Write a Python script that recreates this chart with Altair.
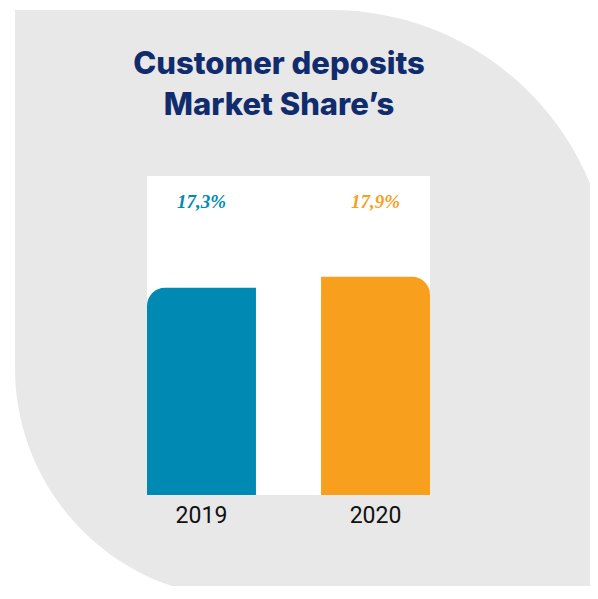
import altair as alt
import pandas as pd

# ---- data ----
years = ["2019", "2020"]
shares = [17.3, 17.9]
value_labels = ["17,3%", "17,9%"]
bar_colors = ["#008AB3", "#F99F1E"]
title_text = "Customer deposits\nMarket Share\u2019s"

df = pd.DataFrame({"year": years, "share": shares, "label": value_labels, "color": bar_colors})
one = pd.DataFrame({"k": [0]})

W, H = 283, 319

x_enc = alt.X(
    "year:N",
    scale=alt.Scale(paddingInner=0.374, paddingOuter=0),
    axis=alt.Axis(title=None, labelAngle=0, domain=False, ticks=False, grid=False,
                  labelFontSize=23, labelColor="#111111", labelFont="Roboto",
                  labelFontWeight="normal", labelPadding=9, zindex=2),
)
y_scale = alt.Scale(domain=[6, 23.4], nice=False, zero=False)

grey = alt.Chart(one).mark_rect(
    color="#E8E8E8", cornerRadiusTopRight=280, cornerRadiusBottomLeft=230
).encode(x=alt.value(-132), x2=alt.value(464), y=alt.value(-166), y2=alt.value(422))

white = alt.Chart(one).mark_rect(color="white").encode(
    x=alt.value(0), x2=alt.value(W), y=alt.value(0), y2=alt.value(H)
)

base = alt.Chart(df)

bar19 = base.transform_filter(alt.datum.year == "2019").mark_bar(
    cornerRadiusTopLeft=18
).encode(
    x=x_enc,
    y=alt.Y("share:Q", scale=y_scale, axis=None),
    y2=alt.datum(6),
    color=alt.Color("color:N", scale=None),
)

bar20 = base.transform_filter(alt.datum.year == "2020").mark_bar(
    cornerRadiusTopRight=18
).encode(
    x=x_enc,
    y=alt.Y("share:Q", scale=y_scale, axis=None),
    y2=alt.datum(6),
    color=alt.Color("color:N", scale=None),
)

vals = base.mark_text(
    font="Liberation Serif", fontStyle="italic", fontWeight="bold", fontSize=19,
    baseline="middle", align="center",
).encode(
    x=x_enc,
    y=alt.value(26),
    text="label:N",
    color=alt.Color("color:N", scale=None),
)

title = alt.Chart(one).mark_text(
    text=title_text, lineBreak="\n", font="Inter", fontWeight=800, fontSize=31,
    lineHeight=41, align="center", baseline="alphabetic", color="#112C6D",
).encode(x=alt.value(132), y=alt.value(-102))

chart = alt.layer(grey, white, bar19, bar20, vals, title).properties(
    width=W,
    height=H,
    autosize=alt.AutoSizeParams(type="none"),
    padding={"left": 139, "top": 168, "right": 160, "bottom": 91},
    background="white",
).configure_view(stroke=None)

chart.save("out.html", embed_options={"renderer": "svg", "actions": False})
